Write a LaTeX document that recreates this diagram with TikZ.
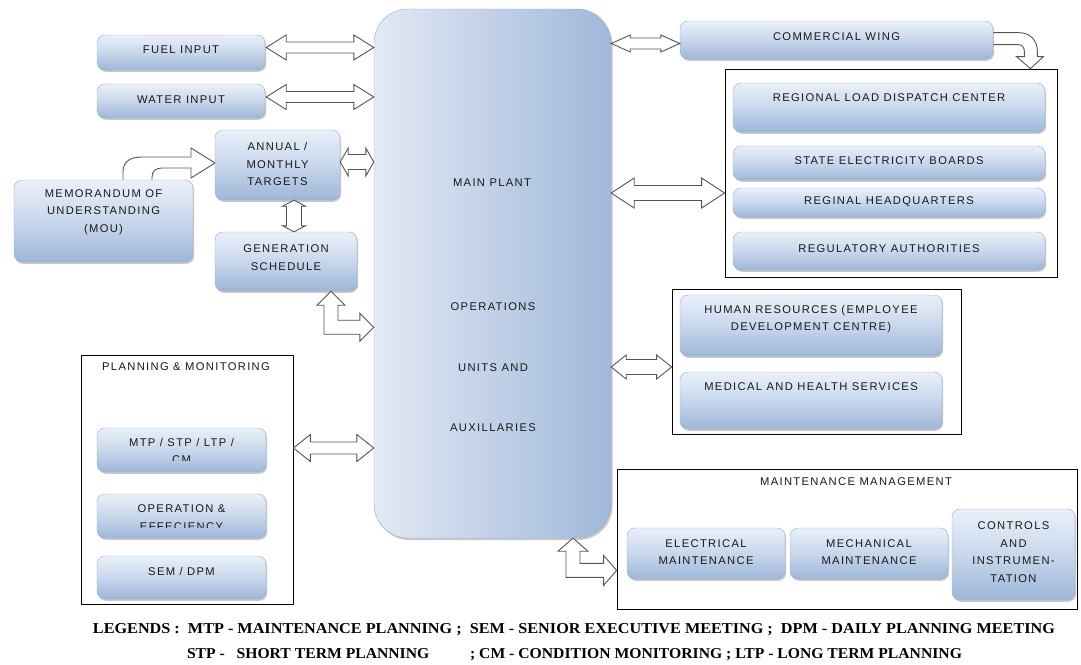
\documentclass[tikz,border=0pt]{standalone}
\usepackage{fontspec}
\usepackage{graphicx}
\setmainfont{Liberation Sans}[LetterSpace=12]
\newfontfamily\legfont{Liberation Serif}
\usetikzlibrary{calc,shadows}
\definecolor{bL}{RGB}{234,240,249}
\definecolor{bM}{RGB}{200,215,236}
\definecolor{bD}{RGB}{158,182,216}
\definecolor{bE}{RGB}{150,174,208}
\definecolor{mL}{RGB}{226,233,245}
\definecolor{mD}{RGB}{160,184,218}
\definecolor{arr}{RGB}{85,85,85}
\definecolor{tx}{RGB}{25,25,25}

\newcommand\hdarrow[5]{%
 \draw[barrow] let \p1=(#1), \p2=(#2) in
 (\x1,\y1) -- (\x1+#3pt,\y1+#4pt) -- (\x1+#3pt,\y1+#5pt) -- (\x2-#3pt,\y1+#5pt) -- (\x2-#3pt,\y1+#4pt) -- (\x2,\y1)
 -- (\x2-#3pt,\y1-#4pt) -- (\x2-#3pt,\y1-#5pt) -- (\x1+#3pt,\y1-#5pt) -- (\x1+#3pt,\y1-#4pt) -- cycle;}
\newcommand\vdarrow[5]{%
 \draw[barrow] let \p1=(#1), \p2=(#2) in
 (\x1,\y1) -- (\x1+#4pt,\y1-#3pt) -- (\x1+#5pt,\y1-#3pt) -- (\x1+#5pt,\y2+#3pt) -- (\x1+#4pt,\y2+#3pt) -- (\x1,\y2)
 -- (\x1-#4pt,\y2+#3pt) -- (\x1-#5pt,\y2+#3pt) -- (\x1-#5pt,\y1-#3pt) -- (\x1-#4pt,\y1-#3pt) -- cycle;}
\newcommand\larrow[5]{%
 \draw[barrow] let \p1=(#1), \p2=(#2) in
 (\x1,\y1) -- (\x1+#4pt,\y1-#3pt) -- (\x1+#5pt,\y1-#3pt) -- (\x1+#5pt,\y2+#5pt) -- (\x2-#3pt,\y2+#5pt) -- (\x2-#3pt,\y2+#4pt) -- (\x2,\y2)
 -- (\x2-#3pt,\y2-#4pt) -- (\x2-#3pt,\y2-#5pt) -- (\x1-#5pt,\y2-#5pt) -- (\x1-#5pt,\y1-#3pt) -- (\x1-#4pt,\y1-#3pt) -- cycle;}
\newcommand\bx[8]{%
 \node[#1, minimum width={(#5)-(#3)}, minimum height={(#6)-(#4)}] (#2) at ({((#3)+(#5))/2},{((#4)+(#6))/2}) {};
 \node[txt] (#2-t) at ({((#3)+(#5))/2},#7) {#8};}

\begin{document}
\begin{tikzpicture}[x=1pt,y=-1pt,
  box/.style={rounded corners=8pt, draw=bE, line width=0.4pt, top color=bL, bottom color=bD, middle color=bM,
    drop shadow={shadow xshift=1.2pt, shadow yshift=-1.8pt, opacity=0.3, fill=black!70}},
  mainbox/.style={rounded corners=34pt, draw=bE, line width=0.4pt, left color=mL, right color=mD,
    drop shadow={shadow xshift=1.5pt, shadow yshift=-2pt, opacity=0.3, fill=black!70}},
  frame/.style={draw=black, line width=0.8pt, fill=white, inner sep=0pt},
  txt/.style={inner sep=0pt, align=center, text=tx, font=\fontsize{11.2}{17.5}\selectfont},
  barrow/.style={draw=arr, line width=0.9pt, fill=white, line join=miter},
]
\useasboundingbox (0,0) rectangle (1081,664);
\fill[white] (0,0) rectangle (1081,664);

% frames
\node[frame, minimum width=212, minimum height=249] (pmbox) at (187,479.5) {};
\node[frame, minimum width=332, minimum height=208] (regbox) at (891,173) {};
\node[frame, minimum width=289, minimum height=145] (hrbox) at (816.5,361.5) {};
\node[frame, minimum width=460, minimum height=140] (mmbox) at (847,539) {};
\node[txt] (pmtitle) at (186,367) {PLANNING \& MONITORING};
\node[txt] (mmtitle) at (856,482) {MAINTENANCE MANAGEMENT};

% curved arrows (drawn below their source boxes)
\coordinate (a11t) at (215,163);
\begin{scope}[shift={(a11t)}]
\draw[barrow] (-92,18) -- (-92,9) .. controls (-92,-2) and (-84,-6) .. (-73,-6) -- (-24,-6) -- (-24,-15) -- (0,0)
  -- (-24,15) -- (-24,5) -- (-53,5) .. controls (-59,5) and (-63,8) .. (-63,14) -- (-63,18) -- cycle;
\end{scope}
\coordinate (a12t) at ($(regbox.north east)+(-27,0)$);
\begin{scope}[shift={(a12t)}]
\draw[barrow] (-40,-36) -- (-12,-36) .. controls (0,-36) and (7,-28) .. (7,-17) -- (7,-12) -- (13,-12) -- (0,0)
  -- (-14,-12) -- (-6,-12) -- (-6,-17) .. controls (-6,-21) and (-8,-24) .. (-12,-24) -- (-40,-24) -- cycle;
\end{scope}

% main plant
\node[mainbox, minimum width=237, minimum height=529] (main) at (492.5,273.5) {};
\node[txt] (mp1) at (492,183) {MAIN PLANT};
\node[txt] (mp2) at (493,307) {OPERATIONS};
\node[txt] (mp3) at (493,368) {UNITS AND};
\node[txt] (mp4) at (493,428) {AUXILLARIES};

% boxes
\bx{box}{fuel}{97}{35}{265}{70}{50}{FUEL INPUT}
\bx{box}{water}{97}{84}{265}{118}{100}{WATER INPUT}
\bx{box}{annual}{215}{130}{340}{200}{164}{ANNUAL /\\MONTHLY\\TARGETS}
\bx{box}{mou}{14}{180}{193}{262}{212}{MEMORANDUM OF\\UNDERSTANDING\\(MOU)}
\bx{box}{gen}{215}{232}{357}{291}{257.5}{GENERATION\\SCHEDULE}
\bx{box}{comm}{680}{21}{993}{59}{37}{COMMERCIAL WING}
\bx{box}{rldc}{733}{83}{1045}{132}{98}{REGIONAL LOAD DISPATCH CENTER}
\bx{box}{seb}{733}{146}{1045}{180}{161}{STATE ELECTRICITY BOARDS}
\bx{box}{rhq}{733}{188}{1045}{217}{202}{REGINAL HEADQUARTERS}
\bx{box}{ra}{733}{232}{1045}{270}{249}{REGULATORY AUTHORITIES}
\bx{box}{hr}{680}{295}{942}{356}{319}{HUMAN RESOURCES (EMPLOYEE\\DEVELOPMENT CENTRE)}
\bx{box}{med}{680}{372}{942}{429}{387}{MEDICAL AND HEALTH SERVICES}
\bx{box}{elec}{627}{528}{785}{579}{552}{ELECTRICAL\\MAINTENANCE}
\bx{box}{mech}{790}{528}{948}{579}{552}{MECHANICAL\\MAINTENANCE}
\bx{box}{ctrl}{952}{509}{1075}{600}{552}{CONTROLS\\AND\\INSTRUMEN-\\TATION}
\bx{box}{mtp}{97}{428}{266}{472}{451}{}
\bx{box}{oper}{97}{494}{266}{538}{517.5}{}
\bx{box}{sem}{97}{556}{266}{599}{571}{SEM / DPM}
\begin{scope}
\clip (97,428) rectangle (266,460);
\node[txt] (mtp-l) at (181.5,451) {MTP / STP / LTP /\\CM};
\end{scope}
\begin{scope}
\clip (97,494) rectangle (266,527.5);
\node[txt] (oper-l) at (181.5,517.5) {OPERATION \&\\EFFECIENCY};
\end{scope}

% straight block arrows
\coordinate (a1l) at ($(fuel.east)+(1,-5)$);   \coordinate (a1r) at (main.west |- a1l);
\hdarrow{a1l}{a1r}{20}{12.5}{5.5}
\coordinate (a2l) at ($(water.east)+(1,-4)$);  \coordinate (a2r) at (main.west |- a2l);
\hdarrow{a2l}{a2r}{20}{12.5}{5.5}
\coordinate (a3l) at ($(annual.east)+(0,-3)$); \coordinate (a3r) at (main.west |- a3l);
\hdarrow{a3l}{a3r}{8}{14}{7.5}
\coordinate (a4t) at ($(annual.south)+(16.5,0)$); \coordinate (a4b) at (a4t |- gen.north);
\vdarrow{a4t}{a4b}{6}{11.5}{7.5}
\coordinate (a5t) at ($(gen.south)+(45,0)$); \coordinate (a5r) at ($(main.west |- a5t)+(0,36)$);
\larrow{a5t}{a5r}{14}{14}{7}
\coordinate (a6l) at ($(pmbox.east)+(0,-31.5)$); \coordinate (a6r) at (main.west |- a6l);
\hdarrow{a6l}{a6r}{17}{13.5}{6}
\coordinate (a7r) at ($(comm.west)+(0,3.5)$); \coordinate (a7l) at (main.east |- a7r);
\hdarrow{a7l}{a7r}{19}{8.5}{5.5}
\coordinate (a8r) at ($(regbox.west)+(0,20)$); \coordinate (a8l) at (main.east |- a8r);
\hdarrow{a8l}{a8r}{23}{15}{7.5}
\coordinate (a9r) at ($(hrbox.west)+(0,5.5)$); \coordinate (a9l) at (main.east |- a9r);
\hdarrow{a9l}{a9r}{15}{12}{7.5}
\coordinate (a10t) at ($(main.south)+(80.5,0)$); \coordinate (a10r) at ($(mmbox.south west)+(0,-39)$);
\larrow{a10t}{a10r}{13}{15}{7}

% legend
\node[anchor=base, inner sep=0pt] (leg1) at (574,633) {\resizebox{962pt}{10pt}{\legfont\bfseries LEGENDS :\ \ MTP - MAINTENANCE PLANNING ;\ \ SEM - SENIOR EXECUTIVE MEETING ;\ \ DPM - DAILY PLANNING MEETING}};
\node[anchor=base, inner sep=0pt] (leg2) at (574.5,658) {\resizebox{775pt}{10pt}{\legfont\bfseries STP -\ \ \ SHORT TERM PLANNING\hspace{2.6em}; CM - CONDITION MONITORING ; LTP - LONG TERM PLANNING}};
\end{tikzpicture}
\end{document}
